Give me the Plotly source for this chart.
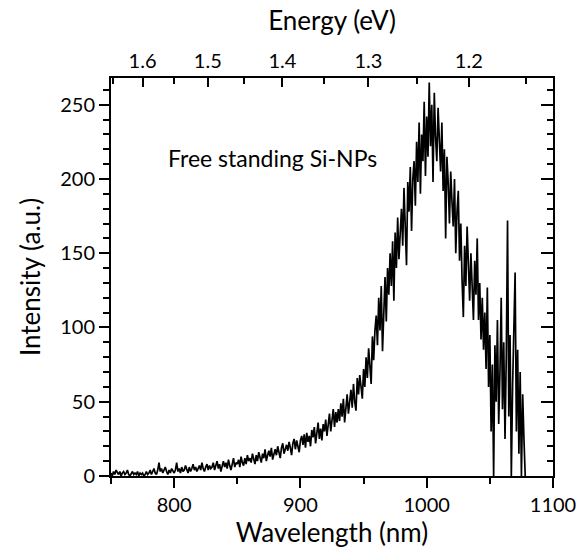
import plotly.graph_objects as go

wl_start = 750
intensity = [
    2,0,3,1,4,2,1,3,0,2,
    3,1,2,4,1,0,2,3,1,2,
    1,3,0,2,1,2,0,1,3,1,
    2,4,1,3,5,2,1,4,9,3,
    5,2,4,6,3,1,4,2,5,3,
    2,4,9,3,5,2,6,3,4,7,
    4,2,6,3,5,8,4,6,3,5,
    7,4,9,5,3,6,8,4,7,5,
    6,9,4,7,10,5,8,3,7,10,
    6,9,5,11,7,4,8,12,6,9,
    8,11,6,13,9,7,12,8,14,10,
    12,9,15,11,8,14,10,16,12,9,
    15,12,18,10,14,17,13,19,11,16,
    18,14,20,16,12,19,22,15,18,21,
    17,23,19,14,22,25,18,24,20,16,
    24,27,21,28,19,29,23,27,20,31,
    26,33,22,29,36,25,32,24,35,30,
    38,27,34,42,30,39,45,33,43,36,
    45,37,49,40,52,36,48,55,42,50,
    58,46,62,50,44,66,55,68,58,52,
    72,60,80,66,86,70,62,94,78,98,
    108,88,120,98,128,84,114,134,104,140,
    122,150,128,158,118,164,140,174,146,168,
    180,155,194,168,142,198,178,208,165,200,
    212,182,225,198,238,190,230,212,252,202,
    242,215,265,222,250,198,258,228,212,248,
    228,205,238,192,220,160,215,198,170,205,
    185,168,200,150,178,192,145,170,132,107,
    155,128,168,140,118,150,130,105,145,122,
    160,105,130,92,120,85,110,72,127,60,
    95,30,75,0,88,50,105,35,70,120,
    45,90,25,80,172,40,95,0,60,110,
    137,30,85,15,70,0,55,25,0,
]
wavelength = [wl_start + i for i in range(len(intensity))]

energy_major = [1.6, 1.5, 1.4, 1.3, 1.2]
energy_minor = [1.65, 1.55, 1.45, 1.35, 1.25, 1.15]
energy_labels = ["1.6", "1.5", "1.4", "1.3", "1.2"]

x_range = [750, 1100]
y_range = [0, 268]
font_family = "Lato, Open Sans, sans-serif"

fig = go.Figure()
fig.add_trace(go.Scatter(x=wavelength, y=intensity, mode="lines",
                         line=dict(color="black", width=1.7), showlegend=False))
fig.add_trace(go.Scatter(x=[x_range[0]], y=[0], xaxis="x2", mode="markers",
                         marker=dict(opacity=0), showlegend=False, hoverinfo="skip"))
fig.add_trace(go.Scatter(x=[x_range[0]], y=[0], yaxis="y2", mode="markers",
                         marker=dict(opacity=0), showlegend=False, hoverinfo="skip"))

fig.update_layout(
    width=579, height=552,
    margin=dict(l=111, r=26, t=78, b=76),
    paper_bgcolor="white", plot_bgcolor="white",
    font=dict(family=font_family, color="black", size=20),
    xaxis=dict(range=x_range, tickvals=[800, 900, 1000, 1100], ticks="outside",
               ticklen=10, tickwidth=2, tickcolor="black", automargin=False,
               minor=dict(tickvals=[750, 850, 950, 1050], ticks="outside", ticklen=6,
                          tickwidth=2, tickcolor="black"),
               showline=True, linecolor="black", linewidth=2, mirror=False,
               showgrid=False, zeroline=False,
               tickfont=dict(size=20),
               title=dict(text="Wavelength (nm)", font=dict(size=26), standoff=6)),
    xaxis2=dict(range=x_range, overlaying="x", side="top", automargin=False,
                tickvals=[1240 / e for e in energy_major], ticktext=energy_labels,
                ticks="inside", ticklen=9, tickwidth=2, tickcolor="black",
                minor=dict(tickvals=[1240 / e for e in energy_minor], ticks="inside",
                           ticklen=6, tickwidth=2, tickcolor="black"),
                showline=True, linecolor="black", linewidth=2,
                showgrid=False, zeroline=False, tickfont=dict(size=20),
                title=dict(text="Energy (eV)", font=dict(size=26), standoff=10)),
    yaxis=dict(range=y_range, tickvals=[0, 50, 100, 150, 200, 250], ticks="outside",
               ticklen=10, tickwidth=2, tickcolor="black", automargin=False,
               minor=dict(dtick=10, tick0=0, ticks="outside", ticklen=6,
                          tickwidth=2, tickcolor="black"),
               showline=True, linecolor="black", linewidth=2, mirror=False,
               showgrid=False, zeroline=False, tickfont=dict(size=20),
               title=dict(text="Intensity (a.u.)", font=dict(size=26), standoff=12)),
    yaxis2=dict(range=y_range, overlaying="y", side="right", automargin=False,
                tickvals=[0, 50, 100, 150, 200, 250], ticks="inside",
                ticklen=12, tickwidth=2, tickcolor="black", showticklabels=False,
                minor=dict(dtick=10, tick0=0, ticks="inside", ticklen=6,
                           tickwidth=2, tickcolor="black"),
                showline=True, linecolor="black", linewidth=2,
                showgrid=False, zeroline=False),
    annotations=[dict(x=878, y=214, xref="x", yref="y", text="Free standing Si-NPs",
                      showarrow=False, font=dict(size=23, color="black"))],
)

fig.write_html("out.html")
